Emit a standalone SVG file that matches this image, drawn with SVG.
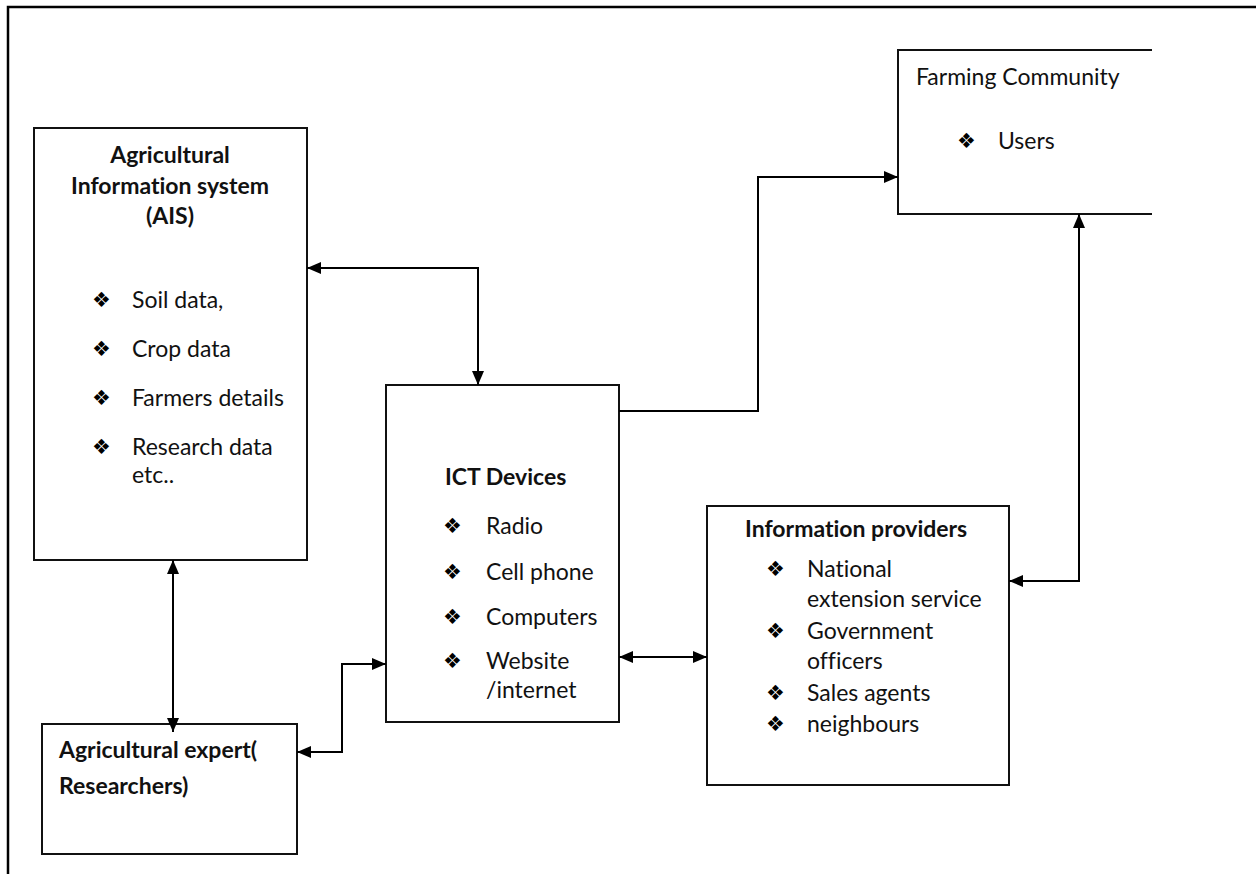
<svg xmlns="http://www.w3.org/2000/svg" width="1256" height="874" viewBox="0 0 1256 874">
  <defs>
    <marker id="arrow" viewBox="0 0 14 12" refX="14" refY="6" markerWidth="14" markerHeight="12" markerUnits="userSpaceOnUse" orient="auto-start-reverse">
      <path d="M0,0 L14,6 L0,12 Z" fill="#000"/>
    </marker>
    <style>
      .box { fill: #fff; stroke: #111; stroke-width: 2; }
      .frame { fill: none; stroke: #000; stroke-width: 2.5; }
      .link { fill: none; stroke: #000; stroke-width: 2; marker-start: url(#arrow); marker-end: url(#arrow); }
      .link.one { marker-start: none; }
      text { font-family: Lato, "Liberation Sans", sans-serif; font-size: 23px; fill: #111; font-variant-ligatures: none; }
      .b { font-weight: bold; }
      .mid { text-anchor: middle; }
      .bul { font-family: "DejaVu Sans", sans-serif; font-size: 21px; fill: #000; }
    </style>
  </defs>

  <rect width="1256" height="874" fill="#fff"/>

  <!-- page frame: only the top and left edges are drawn -->
  <path class="frame" d="M8,874 V7 H1256"/>

  <g id="farming-community">
    <rect x="898" y="50" width="254" height="164" fill="#fff"/>
    <path class="box" style="fill:none" d="M1152,50 H898 V214 H1152"/>
    <text x="916" y="85">Farming Community</text>
    <text class="bul" x="957" y="148">&#x2756;&#xFE0E;</text>
    <text x="998" y="149">Users</text>
  </g>

  <g id="ais">
    <rect class="box" x="34" y="128" width="273" height="432"/>
    <text class="b mid" x="170" y="163">Agricultural</text>
    <text class="b mid" x="170" y="194">Information system</text>
    <text class="b mid" x="170" y="224">(AIS)</text>
    <text class="bul" x="92" y="307">&#x2756;&#xFE0E;</text>
    <text x="132" y="308">Soil data,</text>
    <text class="bul" x="92" y="356">&#x2756;&#xFE0E;</text>
    <text x="132" y="357">Crop data</text>
    <text class="bul" x="92" y="405">&#x2756;&#xFE0E;</text>
    <text x="132" y="406">Farmers details</text>
    <text class="bul" x="92" y="454">&#x2756;&#xFE0E;</text>
    <text x="132" y="455">Research data</text>
    <text x="132" y="483">etc..</text>
  </g>

  <g id="ict-devices">
    <rect class="box" x="386" y="385" width="233" height="337"/>
    <text class="b" x="445" y="485">ICT Devices</text>
    <text class="bul" x="443" y="533">&#x2756;&#xFE0E;</text>
    <text x="486" y="534">Radio</text>
    <text class="bul" x="443" y="579">&#x2756;&#xFE0E;</text>
    <text x="486" y="580">Cell phone</text>
    <text class="bul" x="443" y="624">&#x2756;&#xFE0E;</text>
    <text x="486" y="625">Computers</text>
    <text class="bul" x="443" y="668">&#x2756;&#xFE0E;</text>
    <text x="486" y="669">Website</text>
    <text x="486" y="698">/internet</text>
  </g>

  <g id="information-providers">
    <rect class="box" x="707" y="506" width="302" height="279"/>
    <text class="b" x="745" y="537">Information providers</text>
    <text class="bul" x="766" y="576">&#x2756;&#xFE0E;</text>
    <text x="807" y="577">National</text>
    <text x="807" y="607">extension service</text>
    <text class="bul" x="766" y="638">&#x2756;&#xFE0E;</text>
    <text x="807" y="639">Government</text>
    <text x="807" y="669">officers</text>
    <text class="bul" x="766" y="700">&#x2756;&#xFE0E;</text>
    <text x="807" y="701">Sales agents</text>
    <text class="bul" x="766" y="731">&#x2756;&#xFE0E;</text>
    <text x="807" y="732">neighbours</text>
  </g>

  <g id="agricultural-expert">
    <rect class="box" x="42" y="724" width="255" height="130"/>
    <text class="b" x="59" y="758">Agricultural expert(</text>
    <text class="b" x="59" y="794">Researchers)</text>
  </g>

  <g id="connectors">
    <path class="link" d="M307,268 H478 V385"/>
    <path class="link one" d="M619,411 H758 V177 H898"/>
    <path class="link" d="M1079,214 V581 H1009"/>
    <path class="link" d="M619,657 H707"/>
    <path class="link" d="M173,560 V732"/>
    <path class="link" d="M297,752 H342 V664 H386"/>
  </g>
</svg>
